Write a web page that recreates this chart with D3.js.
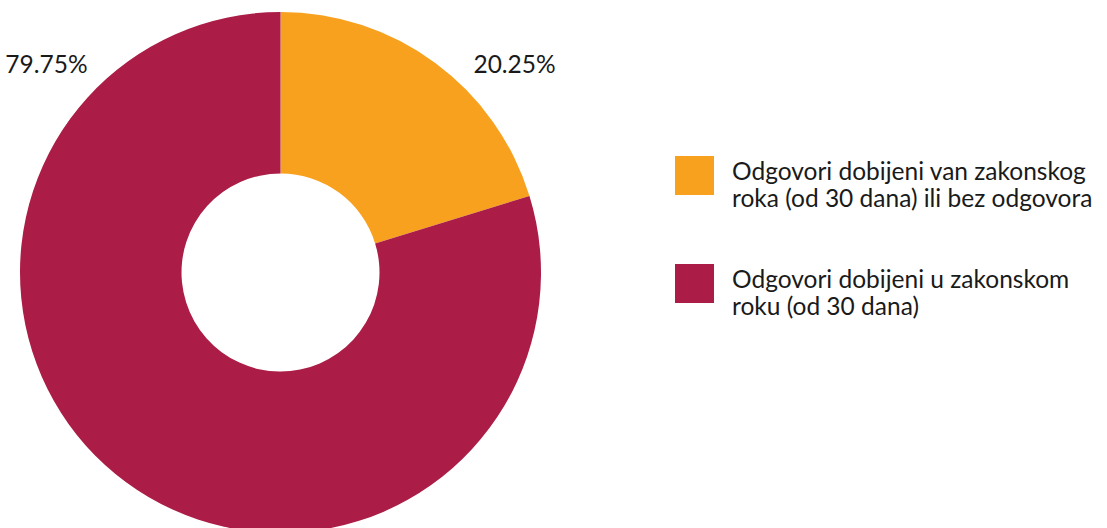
<!DOCTYPE html>
<html>
<head>
<meta charset="utf-8">
<script src="https://cdn.jsdelivr.net/npm/d3@7"></script>
<style>
  body { margin: 0; background: #fff; }
  text { font-family: Lato, "Noto Sans", sans-serif; fill: #1a1a1a; }
</style>
</head>
<body>
<svg id="chart" width="1107" height="528"></svg>
<script>
// data
var categories = [
  'Odgovori dobijeni van zakonskog roka (od 30 dana) ili bez odgovora',
  'Odgovori dobijeni u zakonskom roku (od 30 dana)'
];
var values = [20.25, 79.75];
var legendLines = [
  ['Odgovori dobijeni van zakonskog', 'roka (od 30 dana) ili bez odgovora'],
  ['Odgovori dobijeni u zakonskom', 'roku (od 30 dana)']
];
var colors = ['#f7a11f', '#ab1d47'];

var svg = d3.select('#chart');
var cx = 280.5, cy = 272.5, outerR = 260.5, innerR = 99;

var pie = d3.pie().sort(null).value(function(d) { return d; });
var arc = d3.arc().innerRadius(innerR).outerRadius(outerR);

var g = svg.append('g').attr('transform', 'translate(' + cx + ',' + cy + ')');

var slices = pie(values);

g.selectAll('path')
  .data(slices)
  .enter().append('path')
  .attr('d', arc)
  .attr('fill', function(d, i) { return colors[i]; });

// labels sit up by the top, mirrored left / right
var labelR = 313, labelAngle = 48.4 * Math.PI / 180;
g.selectAll('text.pct')
  .data(slices)
  .enter().append('text')
  .attr('class', 'pct')
  .attr('x', function(d) {
    var side = (d.startAngle + d.endAngle) / 2 < Math.PI ? 1 : -1;
    return side * labelR * Math.sin(labelAngle);
  })
  .attr('y', -labelR * Math.cos(labelAngle) + 8.5)
  .attr('text-anchor', 'middle')
  .style('font-size', '24.5px')
  .text(function(d) { return d.data.toFixed(2) + '%'; });

// legend
var legend = svg.append('g').attr('transform', 'translate(675,156)');
var item = legend.selectAll('g')
  .data(categories)
  .enter().append('g')
  .attr('transform', function(d, i) { return 'translate(0,' + (i * 108) + ')'; });

item.append('rect')
  .attr('width', 39).attr('height', 39)
  .attr('fill', function(d, i) { return colors[i]; });

item.append('text')
  .attr('x', 57)
  .attr('y', 23.5)
  .style('font-size', '24.5px')
  .selectAll('tspan')
  .data(function(d, i) { return legendLines[i]; })
  .enter().append('tspan')
  .attr('x', 57)
  .attr('dy', function(d, j) { return j ? 27.5 : 0; })
  .text(function(d) { return d; });
</script>
</body>
</html>
